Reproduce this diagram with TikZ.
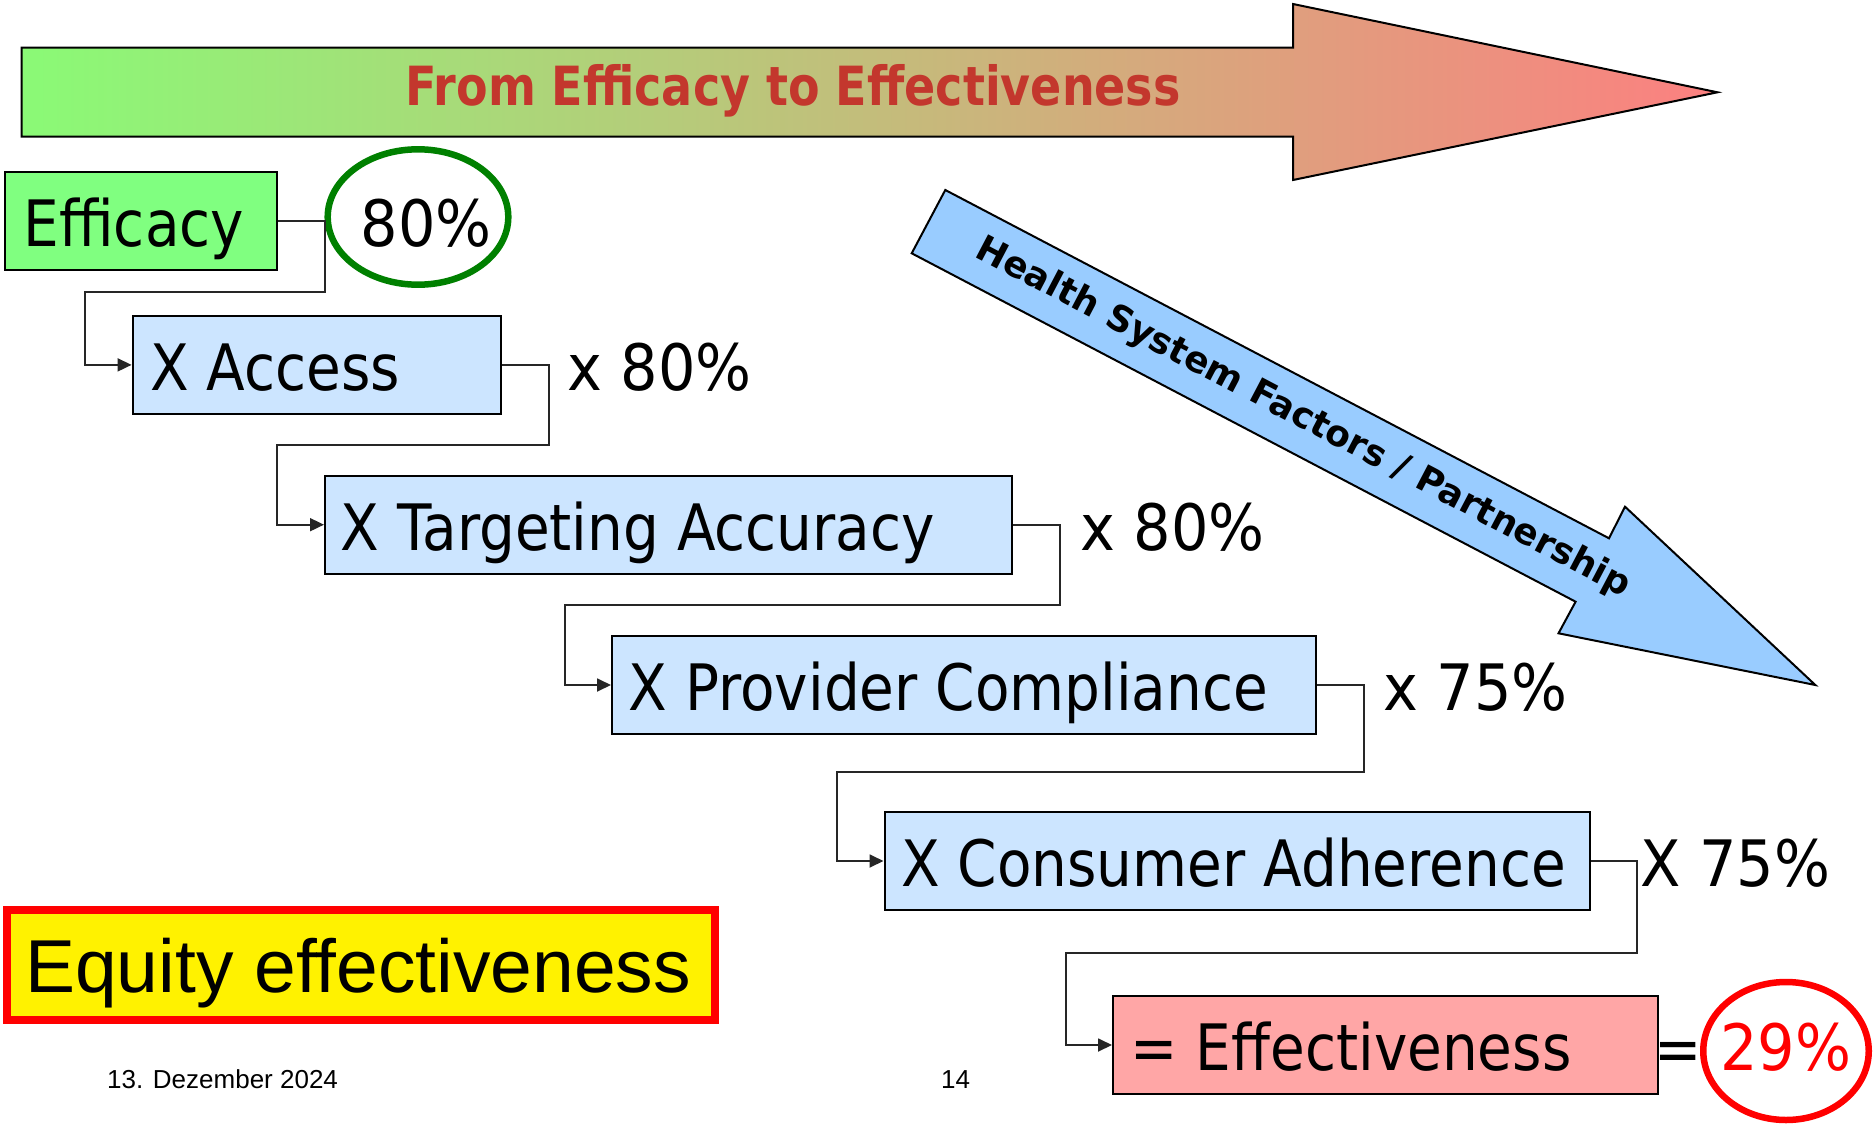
\documentclass[tikz,border=0pt]{standalone}
\usepackage{fontspec}
\usetikzlibrary{arrows.meta,calc,shapes.geometric}
\newfontfamily\tah[FakeStretch=0.882]{DejaVu Sans}
\newfontfamily\tahnum[FakeStretch=0.92]{DejaVu Sans}
\newfontfamily\tahti[FakeStretch=0.852]{DejaVu Sans}
\newfontfamily\verd{DejaVu Sans}
\newfontfamily\arial{Liberation Sans}
\definecolor{gLeft}{RGB}{138,250,118}
\definecolor{gMid}{RGB}{200,205,122}
\definecolor{gRight}{RGB}{252,128,128}
\definecolor{titleRed}{RGB}{195,55,45}
\definecolor{effGreen}{RGB}{128,255,128}
\definecolor{boxBlue}{RGB}{204,229,255}
\definecolor{boxPink}{RGB}{255,166,166}
\definecolor{arrBlue}{RGB}{153,204,255}
\definecolor{ringGreen}{RGB}{0,128,0}
\definecolor{ringRed}{RGB}{255,0,0}
\begin{document}
\begin{tikzpicture}[x=1pt,y=-1pt,
  box/.style={draw=black, line width=2pt, rectangle, inner sep=0pt, minimum height=98pt},
  lbl/.style={anchor=base west, inner sep=0pt, font=\tah\fontsize{64}{70}\selectfont},
  num/.style={anchor=base west, inner sep=0pt, font=\tahnum\fontsize{64}{70}\selectfont},
  conn/.style={draw=black!85, line width=1.8pt, -{Triangle[length=14pt,width=13pt]}},
  ring/.style={ellipse, inner sep=0pt, line width=6.5pt}]
\useasboundingbox (0,0) rectangle (1874,1124);

% top gradient arrow
\path[draw=black, line width=2pt, left color=gLeft, middle color=gMid, right color=gRight]
  (21.5,47.7) -- (1293,47.7) -- (1293,4) -- (1717.5,92.3) -- (1293,180)
  -- (1293,136.7) -- (21.5,136.7) -- cycle;
\node[anchor=base, inner sep=0pt, text=titleRed, font=\tahti\bfseries\fontsize{54}{60}\selectfont]
  (title) at (793,106) {From Efficacy to Effectiveness};

% diagonal blue arrow
\path[draw=black, line width=2pt, fill=arrBlue]
  (945.3,190) -- (1609,538.3) -- (1625,506.7) -- (1815.3,685) -- (1558.5,633.3)
  -- (1575.6,601.7) -- (911.7,253.3) -- cycle;
\node[rotate=-27.66, inner sep=0pt, font=\verd\bfseries\fontsize{36}{40}\selectfont]
  (hsf) at (1303,418) {Health System Factors / Partnership};

% boxes
\node[box, fill=effGreen, minimum width=272pt] (eff) at (141,221) {};
\node[box, fill=boxBlue, minimum width=368.4pt] (acc) at (316.8,364.9) {};
\node[box, fill=boxBlue, minimum width=687pt] (tgt) at (668.5,524.7) {};
\node[box, fill=boxBlue, minimum width=704pt] (prv) at (964,685) {};
\node[box, fill=boxBlue, minimum width=705pt] (con) at (1237,861) {};
\node[box, fill=boxPink, minimum width=545pt] (eft) at (1385.5,1045) {};

\node[lbl] (teff) at ($(eff.west)+(19.5,25.5)$) {Efficacy};
\node[lbl] (tacc) at ($(acc.west)+(18.5,25.5)$) {X Access};
\node[lbl] (ttgt) at ($(tgt.west)+(16.5,25.5)$) {X Targeting Accuracy};
\node[lbl] (tprv) at ($(prv.west)+(17.5,25.5)$) {X Provider Compliance};
\node[lbl] (tcon) at ($(con.west)+(17.5,25.5)$) {X Consumer Adherence};
\node[lbl] (teft) at ($(eft.west)+(18.5,25.5)$) {= Effectiveness};

% factor labels
\node[num] (f1) at ($(acc.east)+(65,25.5)$) {x 80\%};
\node[num] (f2) at ($(tgt.east)+(67,25.5)$) {x 80\%};
\node[num] (f3) at ($(prv.east)+(66,25.5)$) {x 75\%};
\node[num] (f4) at ($(con.east)+(49.5,25.5)$) {X 75\%};

% rings
\node[ring, draw=ringGreen, minimum width=180.6pt, minimum height=135.4pt] (c80) at (418,217) {};
\node[num] (p80) at (360.5,246.7) {80\%};
\node[ring, draw=ringRed, minimum width=165.5pt, minimum height=138pt] (c29) at (1786,1051) {};
\node[num, text=ringRed] (p29) at (1720,1070) {29\%};
\node[lbl] (eq2) at (1654.5,1071) {=};

% connectors
\draw[conn] (eff.east) -- (325,221) |- (85,292) |- (acc.west);
\draw[conn] (acc.east) -- (548.6,364.9) |- (277.3,444.6) |- (tgt.west);
\draw[conn] (tgt.east) -- (1060,524.7) |- (565.3,604.8) |- (prv.west);
\draw[conn] (prv.east) -- (1363.7,685) |- (836.6,772) |- (con.west);
\draw[conn] (con.east) -- (1637,861) |- (1065.8,953) |- (eft.west);

% equity box
\node[draw=ringRed, line width=8pt, fill=yellow, minimum width=708.2pt, minimum height=110pt,
  inner sep=0pt, text height=54pt, text depth=0pt, font=\arial\fontsize{75}{80}\selectfont]
  (eq) at (360.6,965) {Equity effectiveness\hspace*{5pt}};

% footer
\node[anchor=base west, inner sep=0pt, font=\arial\fontsize{26}{30}\selectfont] (date) at (107,1088) {13. Dezember 2024};
\node[anchor=base, inner sep=0pt, font=\arial\fontsize{26}{30}\selectfont] (pg) at (955.5,1088) {14};
\end{tikzpicture}
\end{document}
